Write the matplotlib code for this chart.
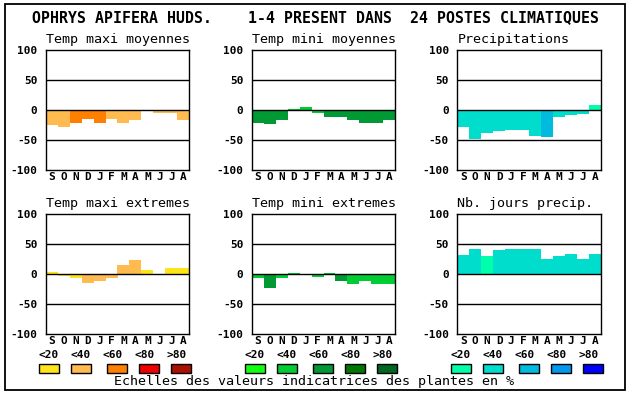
import matplotlib.pyplot as plt
from matplotlib.patches import Rectangle

W, H = 630, 394

months = ["S", "O", "N", "D", "J", "F", "M", "A", "M", "J", "J", "A"]
classes = ["<20", "<40", "<60", "<80", ">80"]

orange_scale = ["#FFE41A", "#FFBB50", "#FF8000", "#EE0000", "#AA1100"]
green_scale = ["#11FF11", "#00CC33", "#009933", "#007700", "#006622"]
blue_scale = ["#00FFAA", "#00DDCC", "#00BBDD", "#0099EE", "#0000FF"]

tmax_moy = [-24, -28, -21, -15, -21, -15, -22, -16, 0, -4, -4, -16]
tmax_moy_cls = [1, 1, 2, 2, 2, 1, 1, 1, 1, 1, 1, 1]
tmin_moy = [-21, -23, -16, 2, 5, -5, -12, -12, -16, -21, -21, -17]
tmin_moy_cls = [2, 2, 2, 1, 1, 1, 2, 2, 2, 2, 2, 2]
precip = [-28, -48, -38, -34, -33, -33, -43, -44, -11, -8, -6, 8]
precip_cls = [1, 1, 1, 1, 1, 1, 1, 2, 1, 1, 1, 0]
tmax_ext = [3, -3, -7, -14, -11, -7, 15, 24, 7, 0, 10, 10]
tmax_ext_cls = [0, 0, 0, 1, 1, 1, 1, 1, 0, 0, 0, 0]
tmin_ext = [-7, -23, -6, 2, -2, -4, 2, -12, -16, -12, -17, -16]
tmin_ext_cls = [1, 2, 1, 1, 1, 1, 1, 2, 1, 1, 1, 1]
nb_jours = [32, 42, 30, 40, 42, 42, 42, 25, 30, 34, 25, 34]
nb_jours_cls = [1, 1, 0, 1, 1, 1, 1, 1, 1, 1, 1, 1]

panels = [
    ("Temp maxi moyennes", tmax_moy, tmax_moy_cls, orange_scale),
    ("Temp mini moyennes", tmin_moy, tmin_moy_cls, green_scale),
    ("Precipitations", precip, precip_cls, blue_scale),
    ("Temp maxi extremes", tmax_ext, tmax_ext_cls, orange_scale),
    ("Temp mini extremes", tmin_ext, tmin_ext_cls, green_scale),
    ("Nb. jours precip.", nb_jours, nb_jours_cls, blue_scale),
]

MONO = "DejaVu Sans Mono"


def fx(px):
    return px / W


def fy(py):
    return 1 - py / H


fig = plt.figure(figsize=(W / 100, H / 100), dpi=100)

# outer frame
fig.patches.append(Rectangle((fx(4.5), fy(390)), fx(625) - fx(4.5), fy(4.3) - fy(390),
                             transform=fig.transFigure, fill=False,
                             edgecolor="black", linewidth=1.3))

fig.text(fx(315), fy(18), "OPHRYS APIFERA HUDS.    1-4 PRESENT DANS  24 POSTES CLIMATIQUES",
         ha="center", va="center", family=MONO, fontsize=10.7, fontweight="bold")

lefts = [45.7, 251.7, 457.3]
tops = [50.3, 214.3]
x = list(range(len(months)))

for i, (title, vals, cls, scale) in enumerate(panels):
    left = lefts[i % 3]
    top = tops[i // 3]
    ax = fig.add_axes([fx(left), fy(top + 120), 143.6 / W, 120 / H])
    ax.bar(x, vals, width=1.0, color=[scale[c] for c in cls], linewidth=0, zorder=2)
    for yv in (50, 0, -50):
        ax.axhline(yv, color="black", linewidth=1.0, zorder=3)
    ax.set_xlim(-0.5, 11.5)
    ax.set_ylim(-100, 100)
    ax.set_yticks([-100, -50, 0, 50, 100])
    ax.set_yticklabels(["-100", "-50", "0", "50", "100"], family=MONO,
                       fontweight="bold", fontsize=8)
    ax.set_xticks(x)
    ax.set_xticklabels(months, family=MONO, fontweight="bold", fontsize=8)
    ax.tick_params(length=0)
    ax.tick_params(axis="y", pad=6)
    ax.tick_params(axis="x", pad=1.5)
    for sp in ax.spines.values():
        sp.set_linewidth(1.0)
    ax.set_title(title, family=MONO, fontsize=9.6, pad=5, loc="left")

# legend scales
for g, scale in enumerate([orange_scale, green_scale, blue_scale]):
    off = 206 * g
    sw_lefts = [39.3, 71.3, 107.3, 139.3, 171.3]
    for k, (lab, col) in enumerate(zip(classes, scale)):
        fig.text(fx(49 + 32 * k + off), fy(354.5), lab, ha="center", va="center",
                 family=MONO, fontweight="bold", fontsize=8)
        fig.patches.append(Rectangle((fx(sw_lefts[k] + off), fy(373.3)), 20 / W, 9 / H,
                                     transform=fig.transFigure, facecolor=col,
                                     edgecolor="black", linewidth=1.0))

fig.text(fx(314.5), fy(382), "Echelles des valeurs indicatrices des plantes en %",
         ha="center", va="center", family=MONO, fontsize=9.6)

fig.savefig("out.png", dpi=100)
